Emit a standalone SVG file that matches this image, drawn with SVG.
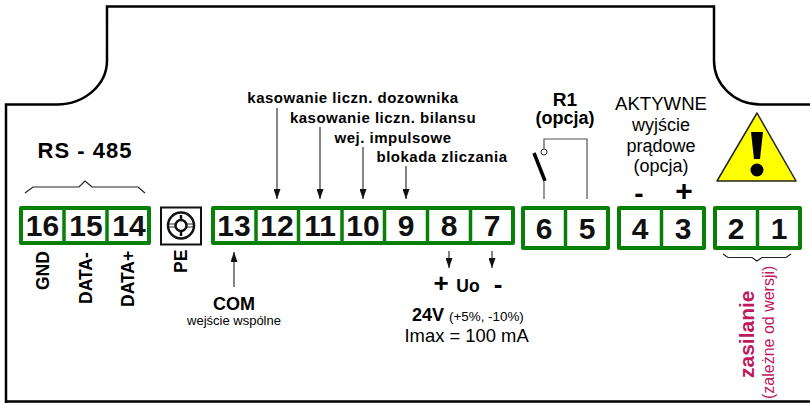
<svg xmlns="http://www.w3.org/2000/svg" width="810" height="403" viewBox="0 0 810 403">
<style>
text{font-family:"Liberation Sans",Arial,sans-serif;fill:#000}
.b{font-weight:bold}
.m{text-anchor:middle}
.num{font-weight:bold;font-size:30px;text-anchor:middle;fill:#111}
.box{fill:#fff;stroke:#088008;stroke-width:4;stroke-linejoin:round}
.div{stroke:#088008;stroke-width:3.5;fill:none}
.line{fill:none;stroke:#000;stroke-width:2.5}
.arr{stroke:#333;stroke-width:1.2;fill:none;marker-end:url(#a)}
.thin{fill:none;stroke:#222;stroke-width:1.2}
.lab{font-weight:bold;font-size:15px;letter-spacing:.5px;text-anchor:middle}
.side{font-weight:bold;font-size:17.500px}
.pink{fill:#c0175d}
</style>
<defs>
<marker id="a" markerUnits="userSpaceOnUse" markerWidth="10" markerHeight="7" refX="10" refY="3.500" orient="auto" viewBox="0 0 10 7"><path d="M0 0L10 3.500L0 7z" fill="#111"/></marker>
</defs>
<g id="outline">
<path class="line" d="M6 403V104.500H57A50 44 0 0 0 107 60V6.500H714V60A46 44 0 0 0 760 104.500H810"/>
<path class="line" d="M6 401.500H810"/>
</g>
<g id="connectors">
<path class="arr" d="M277 108V199"/>
<path class="arr" d="M320 127V199"/>
<path class="arr" d="M363 147V199"/>
<path class="arr" d="M406 166V199"/>
<path class="arr" d="M449 251V268"/>
<path class="arr" d="M492 251V268"/>
<path class="arr" d="M234 287V252"/>
<path class="thin" d="M25 193L33 187H79L85 181L92 187H138L145 193"/>
<path class="thin" d="M723 254L728 257.500H752L757 261L762 257.500H786L791 254"/>
<path d="M544 199V182 M544 149V139H587V199" fill="none" stroke="#555" stroke-width="1.200"/>
<path d="M534 153L545 181" stroke="#000" stroke-width="3.500"/>
<circle cx="544" cy="152" r="3" fill="#fff" stroke="#333"/>
</g>
<g id="block-16-14">
<rect class="box" x="21" y="208" width="128" height="35"/>
<path class="div" d="M64 208V243M107 208V243"/>
<text class="num" x="42.500" y="236">16</text><text class="num" x="86" y="236">15</text><text class="num" x="129" y="236">14</text>
</g>
<g id="pe">
<rect x="161" y="207.500" width="40" height="37" fill="#fff" stroke="#111" stroke-width="2"/>
<circle cx="181" cy="225.500" r="13" fill="none" stroke="#111" stroke-width="2.500"/>
<path d="M169 224H193M169 227H193" stroke="#333" stroke-width="1" fill="none"/>
<circle cx="181" cy="225.500" r="5.500" fill="#fff" stroke="#111" stroke-width="2.500"/>
<path d="M181 215V220M181 231V236" stroke="#111" stroke-width="2.500"/>
</g>
<g id="block-13-7">
<rect class="box" x="213" y="208" width="300" height="35"/>
<path class="div" d="M256 208V243M298.500 208V243M342 208V243M384.500 208V243M427.500 208V243M470.500 208V243"/>
<text class="num" x="234" y="236">13</text><text class="num" x="277" y="236">12</text><text class="num" x="320" y="236">11</text><text class="num" x="363" y="236">10</text><text class="num" x="406" y="236">9</text><text class="num" x="449" y="236">8</text><text class="num" x="492" y="236">7</text>
</g>
<g id="block-6-5">
<rect class="box" x="523" y="208" width="85" height="40"/>
<path class="div" d="M565.500 208V248"/>
<text class="num" x="544" y="239">6</text><text class="num" x="587" y="239">5</text>
</g>
<g id="block-4-3">
<rect class="box" x="619" y="208" width="85" height="40"/>
<path class="div" d="M661.500 208V248"/>
<text class="num" x="640" y="239">4</text><text class="num" x="683" y="239">3</text>
</g>
<g id="block-2-1">
<rect class="box" x="715" y="208" width="85" height="40"/>
<path class="div" d="M757.500 208V248"/>
<text class="num" x="736" y="239">2</text><text class="num" x="779" y="239">1</text>
</g>
<g id="warning">
<path d="M757 113L796 181H717z" fill="#ff0" stroke="#222" stroke-width="1.500" stroke-linejoin="round"/>
<path d="M751 132H763L760 159H754z" fill="#000"/>
<circle cx="757" cy="170" r="6.500" fill="#000"/>
</g>
<g id="labels">
<text class="b m" x="85" y="158" font-size="22" letter-spacing="1">RS - 485</text>
<g class="side">
<text transform="translate(48.500 290) rotate(-90)">GND</text>
<text transform="translate(91.500 304) rotate(-90)">DATA-</text>
<text transform="translate(134 307) rotate(-90)">DATA+</text>
<text transform="translate(187 273) rotate(-90)">PE</text>
</g>
<text class="b m" x="234" y="310" font-size="18">COM</text>
<text class="m" x="234" y="325" font-size="13">wejście wspólne</text>
<text class="lab" x="353" y="103">kasowanie liczn. dozownika</text>
<text class="lab" x="383" y="123">kasowanie liczn. bilansu</text>
<text class="lab" x="393" y="143">wej. impulsowe</text>
<text class="lab" x="442" y="162">blokada zliczania</text>
<text class="b m" x="441" y="292" font-size="26">+</text>
<text class="b m" x="468" y="292" font-size="17.500">Uo</text>
<text class="b m" x="498" y="293" font-size="26">-</text>
<text x="412" y="320.500"><tspan font-size="18" font-weight="bold">24V</tspan><tspan font-size="13.400" dx="5">(+5%, -10%)</tspan></text>
<text x="404.500" y="342" font-size="18.400">Imax = 100 mA</text>
<text class="b m" x="565" y="106" font-size="19">R1</text>
<text class="b m" x="565" y="124" font-size="18">(opcja)</text>
<text class="m" x="661" y="110" font-size="18.600">AKTYWNE</text>
<text class="m" x="661" y="131" font-size="18">wyjście</text>
<text class="m" x="661" y="152" font-size="18">prądowe</text>
<text class="m" x="661" y="172" font-size="18">(opcja)</text>
<text class="b m" x="639" y="203" font-size="28">-</text>
<text class="b m" x="684" y="201" font-size="30">+</text>
<text class="b pink" transform="translate(754 378) rotate(-90)" font-size="21">zasilanie</text>
<text class="pink" transform="translate(774 399) rotate(-90)" font-size="16">(zależne od wersji)</text>
</g>
</svg>
